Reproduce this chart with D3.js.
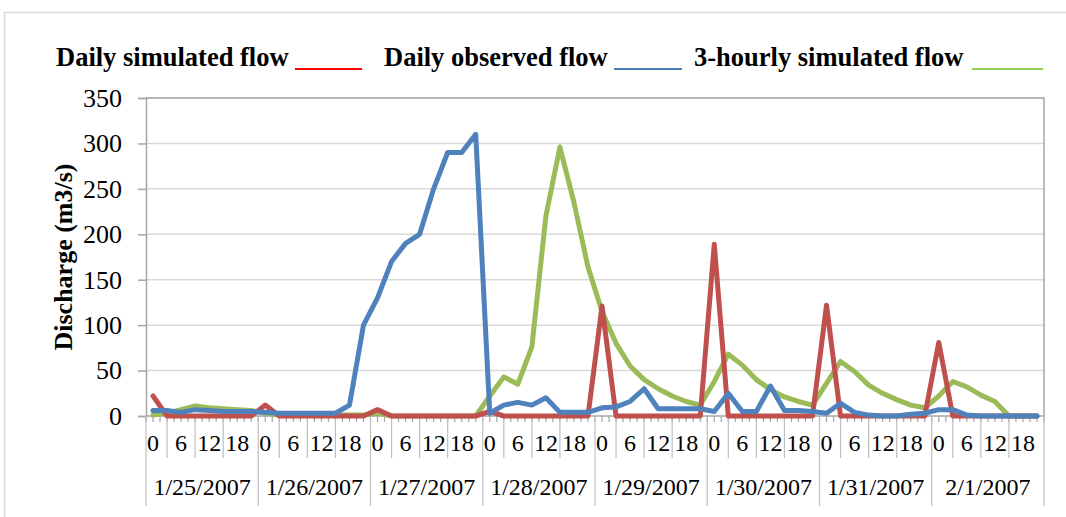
<!DOCTYPE html>
<html>
<head>
<meta charset="utf-8">
<script src="https://cdn.jsdelivr.net/npm/d3@7"></script>
<style>
  body { margin: 0; background: #fff; }
  svg { display: block; font-family: "Liberation Serif", "Times New Roman", serif; }
</style>
</head>
<body>
<svg id="chart" width="1066" height="517"></svg>
<script>
// 8 days, 3-hourly steps
const days = ["1/25/2007", "1/26/2007", "1/27/2007", "1/28/2007", "1/29/2007", "1/30/2007", "1/31/2007", "2/1/2007"];
const hours = [0, 3, 6, 9, 12, 15, 18, 21];
const yTicks = [0, 50, 100, 150, 200, 250, 300, 350];

const dailySimulated = [
    22, 0, 0, 0, 0, 0, 0, 0,
    12, 0, 0, 0, 0, 0, 0, 0,
    7, 0, 0, 0, 0, 0, 0, 0,
    5, 0, 0, 0, 0, 0, 0, 0,
    121, 0, 0, 0, 0, 0, 0, 0,
    189, 0, 0, 0, 0, 0, 0, 0,
    122, 0, 0, 0, 0, 0, 0, 0,
    81, 0, 0, 0, 0, 0, 0, 0
];
const dailyObserved = [
    6, 6, 4, 7, 6, 5, 5, 5,
    4, 3, 3, 3, 3, 3, 12, 100,
    130, 170, 190, 200, 250, 290, 290, 310,
    3, 12, 15, 12, 20, 4, 4, 4,
    9, 10, 16, 30, 8, 8, 8, 8,
    5, 25, 5, 5, 33, 6, 6, 5,
    3, 14, 4, 1, 0, 0, 2, 3,
    7, 7, 1, 0, 0, 0, 0, 0
];
const hourlySimulated = [
    1, 3, 7, 11, 9, 8, 7, 6,
    3, 1, 1, 1, 1, 1, 1, 1,
    3, 0, 0, 0, 0, 0, 0, 0,
    22, 43, 35, 76, 220, 296, 235, 164,
    115, 80, 55, 40, 30, 22, 16, 12,
    38, 68, 56, 40, 29, 21, 16, 12,
    36, 60, 49, 34, 25, 18, 12, 9,
    22, 38, 32, 23, 16, 0, 0, 0
];

const svg = d3.select("#chart");
const margin = { left: 146, right: 1044, top: 98, bottom: 416 };
const n = days.length * hours.length;

const x = d3.scaleBand().domain(d3.range(n)).range([margin.left, margin.right]);
const y = d3.scaleLinear().domain([0, 350]).range([margin.bottom, margin.top]);
const bw = x.bandwidth();
const cx = i => x(i) + bw / 2;

// outer chart frame
svg.append("rect")
    .attr("x", 4.5).attr("y", 12.5)
    .attr("width", 1200).attr("height", 700)
    .attr("fill", "none").attr("stroke", "#d9d9d9").attr("stroke-width", 1.5);

// gridlines
svg.append("g")
    .selectAll("line")
    .data(yTicks.slice(1))
    .join("line")
    .attr("x1", margin.left).attr("x2", margin.right)
    .attr("y1", d => y(d)).attr("y2", d => y(d))
    .attr("stroke", "#d9d9d9").attr("stroke-width", 1.5);

// plot area border (top / right)
svg.append("path")
    .attr("d", `M${margin.left},${margin.top}H${margin.right}V${margin.bottom}`)
    .attr("fill", "none").attr("stroke", "#a6a6a6").attr("stroke-width", 1.5);

// y axis
const yAxis = svg.append("g")
    .attr("transform", `translate(${margin.left},0)`)
    .call(d3.axisLeft(y).tickValues(yTicks).tickSize(8).tickPadding(16));
yAxis.select(".domain").attr("stroke", "#a6a6a6").attr("stroke-width", 1.5);
yAxis.selectAll(".tick line").attr("stroke", "#a6a6a6").attr("stroke-width", 1.5);
yAxis.selectAll(".tick text")
    .attr("font-family", "'Liberation Serif', serif")
    .attr("font-size", 26).attr("fill", "#000");

svg.append("text")
    .attr("transform", `translate(72,257) rotate(-90)`)
    .attr("text-anchor", "middle")
    .attr("font-size", 26).attr("font-weight", "bold")
    .text("Discharge (m3/s)");

// x axis: baseline, ticks, two label rows
const xg = svg.append("g");
xg.append("line")
    .attr("x1", margin.left).attr("x2", margin.right)
    .attr("y1", margin.bottom).attr("y2", margin.bottom)
    .attr("stroke", "#a6a6a6").attr("stroke-width", 1.5);

const smallTicks = d3.range(n * 2 + 1).map(k => margin.left + k * bw / 2);
xg.selectAll(".st")
    .data(smallTicks)
    .join("line")
    .attr("class", "st")
    .attr("x1", d => d).attr("x2", d => d)
    .attr("y1", margin.bottom).attr("y2", margin.bottom + 6)
    .attr("stroke", "#a6a6a6").attr("stroke-width", 1.2);

// separators between hour labels inside each day
const labelIdx = d3.range(n).filter(i => i % 2 === 0);
const seps = labelIdx.filter(i => i % 8 !== 6).map(i => (cx(i) + cx(i + 2)) / 2);
xg.selectAll(".sep")
    .data(seps)
    .join("line")
    .attr("class", "sep")
    .attr("x1", d => d).attr("x2", d => d)
    .attr("y1", margin.bottom).attr("y2", margin.bottom + 42)
    .attr("stroke", "#bfbfbf").attr("stroke-width", 1.2);

// day separators
xg.selectAll(".day")
    .data(d3.range(days.length + 1))
    .join("line")
    .attr("class", "day")
    .attr("x1", d => margin.left + d * 8 * bw).attr("x2", d => margin.left + d * 8 * bw)
    .attr("y1", margin.bottom).attr("y2", 506)
    .attr("stroke", "#bfbfbf").attr("stroke-width", 1.2);

xg.selectAll(".hl")
    .data(labelIdx)
    .join("text")
    .attr("class", "hl")
    .attr("x", d => cx(d)).attr("y", 451)
    .attr("text-anchor", "middle")
    .attr("font-size", 24)
    .text(d => hours[d % 8]);

xg.selectAll(".dl")
    .data(days)
    .join("text")
    .attr("class", "dl")
    .attr("x", (d, k) => margin.left + (k + 0.5) * 8 * bw).attr("y", 495)
    .attr("text-anchor", "middle")
    .attr("font-size", 24)
    .text(d => d);

// series lines: green underneath, then red, blue on top
const line = d3.line().x((d, i) => cx(i)).y(d => y(d));
const series = [
    { values: hourlySimulated, color: "#9bbb59" },
    { values: dailySimulated, color: "#c0504d" },
    { values: dailyObserved, color: "#4f81bd" }
];
svg.append("g")
    .selectAll("path")
    .data(series)
    .join("path")
    .attr("d", d => line(d.values))
    .attr("fill", "none")
    .attr("stroke", d => d.color)
    .attr("stroke-width", 5)
    .attr("stroke-linejoin", "round")
    .attr("stroke-linecap", "round");

// legend
const legend = [
    { label: "Daily simulated flow", x: 56, x1: 295, x2: 362, color: "#ff0000" },
    { label: "Daily observed flow", x: 384, x1: 614, x2: 682, color: "#4a7ebb" },
    { label: "3-hourly simulated flow", x: 694, x1: 972, x2: 1043, color: "#92d050" }
];
const lg = svg.append("g");
lg.selectAll("text")
    .data(legend)
    .join("text")
    .attr("x", d => d.x).attr("y", 66)
    .attr("font-size", 26.5).attr("font-weight", "bold")
    .text(d => d.label);
lg.selectAll("line")
    .data(legend)
    .join("line")
    .attr("x1", d => d.x1).attr("x2", d => d.x2)
    .attr("y1", 69).attr("y2", 69)
    .attr("stroke", d => d.color).attr("stroke-width", 1.8);
</script>
</body>
</html>
